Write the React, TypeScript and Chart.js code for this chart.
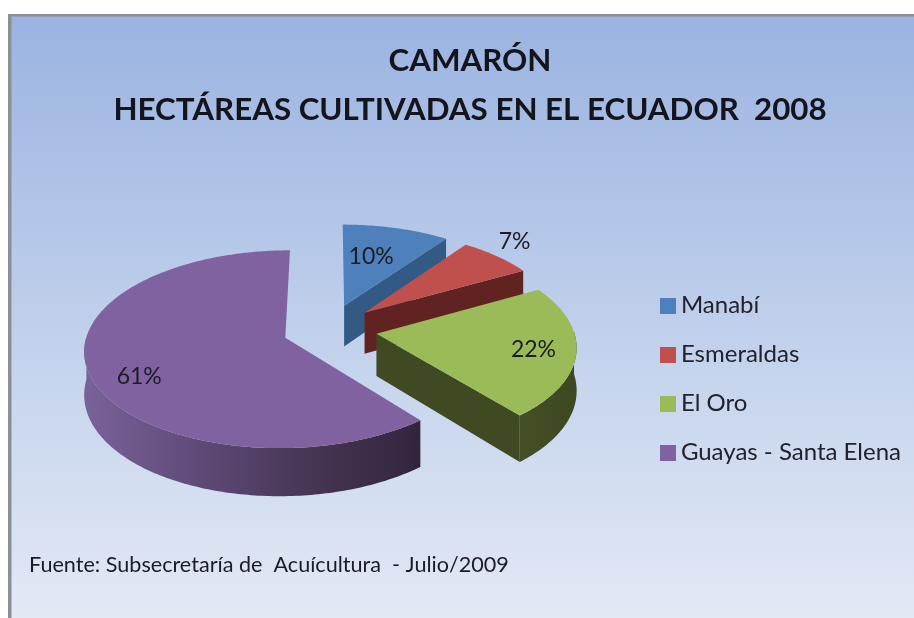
import React, { useEffect, useRef } from "react";
import { Chart, registerables } from "chart.js";

Chart.register(...registerables);

const categories = ["Manabí", "Esmeraldas", "El Oro", "Guayas - Santa Elena"];
const values = [10, 7, 22, 61];
const valueLabels = ["10%", "7%", "22%", "61%"];
const titleLines = ["CAMARÓN", "HECTÁREAS CULTIVADAS EN EL ECUADOR  2008"];
const footer = "Fuente: Subsecretaría de  Acuícultura  - Julio/2009";

const topColors = ["#4e80bc", "#c0504d", "#9bbb59", "#8062a1"];
const cutColors = ["#335a85", "#612322", "#404a22", "#35263f"];
const wallStops = [
  ["#335a85", "#335a85"],
  ["#612322", "#612322"],
  ["#3d4720", "#445026"],
  ["#33243e", "#473654", "#5f4a78", "#7a6299"],
];

// label placement: degrees clockwise from north, fraction of the radius
const labelAngles = [15, 45.5, 102, 241];
const labelRadii = [0.6, 1.22, 0.79, 0.79];

const CX = 330;
const CY = 329;
const TILT = 0.485;
const PERSPECTIVE = 1700;
const DEPTH = 42;
const EXPLODE_X = 47;
const EXPLODE_Y = 52;
const LEGEND_SHIFT = 70;

const project = (X: number, Y: number, z = 0) => {
  const k = PERSPECTIVE / (PERSPECTIVE - Y);
  return { x: CX + X * k, y: CY + Y * TILT * k + z * k };
};

const trace = (ctx: CanvasRenderingContext2D, pts: { x: number; y: number }[]) => {
  ctx.beginPath();
  pts.forEach((p, i) => (i ? ctx.lineTo(p.x, p.y) : ctx.moveTo(p.x, p.y)));
  ctx.closePath();
};

const sliceOrigin = (el: any) => {
  const mid = (el.startAngle + el.endAngle) / 2;
  return { ox: EXPLODE_X * Math.cos(mid), oy: EXPLODE_Y * Math.sin(mid) };
};

const legendMarker = (color: string) => {
  const c = document.createElement("canvas");
  c.width = 16;
  c.height = 16;
  const x = c.getContext("2d")!;
  x.fillStyle = color;
  x.fillRect(0, 0, 16, 16);
  return c;
};

const pie3d = {
  id: "pie3d",
  afterLayout(chart: any) {
    chart.legend.top += LEGEND_SHIFT;
    chart.legend.bottom += LEGEND_SHIFT;
  },
  beforeDraw(chart: any) {
    const { ctx, width, height } = chart;
    ctx.save();
    ctx.fillStyle = "#ffffff";
    ctx.fillRect(0, 0, width, height);
    const g = ctx.createLinearGradient(0, 14, 0, height);
    g.addColorStop(0, "#9ab3e1");
    g.addColorStop(0.5, "#bfcfeb");
    g.addColorStop(1, "#e3e9f5");
    ctx.fillStyle = g;
    ctx.fillRect(8, 14, width - 8, height - 14);
    ctx.fillStyle = "#8c8f96";
    ctx.fillRect(8, 14, width - 8, 2.5);
    ctx.fillRect(8, 14, 3.5, height - 14);
    ctx.restore();
  },
  beforeDatasetDraw(chart: any) {
    const { ctx } = chart;
    const arcs = chart.getDatasetMeta(0).data;
    arcs.forEach((el: any, i: number) => {
      const { ox, oy } = sliceOrigin(el);
      const R = el.outerRadius;
      const steps = Math.max(8, Math.round((el.endAngle - el.startAngle) * 60));
      const rim: { X: number; Y: number; a: number }[] = [];
      for (let s = 0; s <= steps; s++) {
        const a = el.startAngle + ((el.endAngle - el.startAngle) * s) / steps;
        rim.push({ X: ox + R * Math.cos(a), Y: oy + R * Math.sin(a), a });
      }
      const top = rim.map((p) => project(p.X, p.Y));
      const bottom = rim.map((p) => project(p.X, p.Y, DEPTH));
      const apexTop = project(ox, oy);
      const apexBottom = project(ox, oy, DEPTH);

      ctx.save();
      ctx.fillStyle = cutColors[i];
      if (Math.sin(el.startAngle - Math.PI / 2) > 0.01) {
        trace(ctx, [apexTop, top[0], bottom[0], apexBottom]);
        ctx.fill();
      }
      const last = top.length - 1;
      if (Math.sin(el.endAngle + Math.PI / 2) > 0.01) {
        trace(ctx, [apexTop, top[last], bottom[last], apexBottom]);
        ctx.fill();
      }

      // only the part of the outer wall that faces the viewer
      const seen = rim.map((p) => Math.sin(p.a) > -0.02);
      const wallTop = top.filter((_, n) => seen[n]);
      const wallBottom = bottom.filter((_, n) => seen[n]);
      if (wallTop.length > 1) {
        const xs = wallTop.map((p) => p.x);
        const grad = ctx.createLinearGradient(Math.max(...xs), 0, Math.min(...xs), 0);
        wallStops[i].forEach((c, n, all) => grad.addColorStop(n / (all.length - 1), c));
        ctx.fillStyle = grad;
        trace(ctx, [...wallTop, ...wallBottom.slice().reverse()]);
        ctx.fill();
      }

      ctx.fillStyle = el.options.backgroundColor;
      trace(ctx, [apexTop, ...top]);
      ctx.fill();
      ctx.restore();
    });
    return false;
  },
  afterDraw(chart: any) {
    const { ctx } = chart;
    const arcs = chart.getDatasetMeta(0).data;
    ctx.save();
    ctx.font = "23px Lato";
    ctx.fillStyle = "#1c1c24";
    ctx.textAlign = "center";
    ctx.textBaseline = "middle";
    arcs.forEach((el: any, i: number) => {
      const { ox, oy } = sliceOrigin(el);
      const a = ((labelAngles[i] - 90) * Math.PI) / 180;
      const r = el.outerRadius * labelRadii[i];
      const p = project(ox + r * Math.cos(a), oy + r * Math.sin(a));
      ctx.fillText(valueLabels[i], p.x, p.y);
    });
    ctx.restore();
  },
};

export default function App() {
  const ref = useRef<HTMLCanvasElement>(null);
  useEffect(() => {
    const chart = new Chart(ref.current!, {
      type: "pie",
      data: {
        labels: categories,
        datasets: [{ data: values, backgroundColor: topColors, borderWidth: 0 }],
      },
      options: {
        animation: false,
        responsive: false,
        radius: 197,
        layout: { padding: { left: 29, right: 3, top: 0, bottom: 0 } },
        plugins: {
          tooltip: { enabled: false },
          title: {
            display: true,
            text: titleLines,
            color: "#14141c",
            font: { family: "Lato", size: 31.3, weight: "bold", lineHeight: 1.57 },
            padding: { top: 36, bottom: 76 },
          },
          subtitle: {
            display: true,
            text: footer,
            position: "bottom",
            align: "start",
            color: "#1c1c28",
            font: { family: "Lato", size: 21.6, weight: "normal", lineHeight: 1.2 },
            padding: { top: 0, bottom: 40 },
          },
          legend: {
            position: "right",
            labels: {
              usePointStyle: true,
              pointStyleWidth: 2,
              padding: 25,
              color: "#22222e",
              font: { family: "Lato", size: 24 },
              generateLabels: () =>
                categories.map((text, i) => ({
                  text,
                  index: i,
                  fillStyle: topColors[i],
                  strokeStyle: topColors[i],
                  lineWidth: 0,
                  pointStyle: legendMarker(topColors[i]),
                  fontColor: "#22222e",
                  hidden: false,
                })),
            },
          },
        },
      } as any,
      plugins: [pie3d],
    });
    return () => chart.destroy();
  }, []);
  return (
    <div style={{ position: "absolute", left: 0, top: 0, width: 914, height: 618 }}>
      <canvas ref={ref} width={914} height={618} style={{ display: "block", filter: "blur(0.45px)" }} />
    </div>
  );
}
